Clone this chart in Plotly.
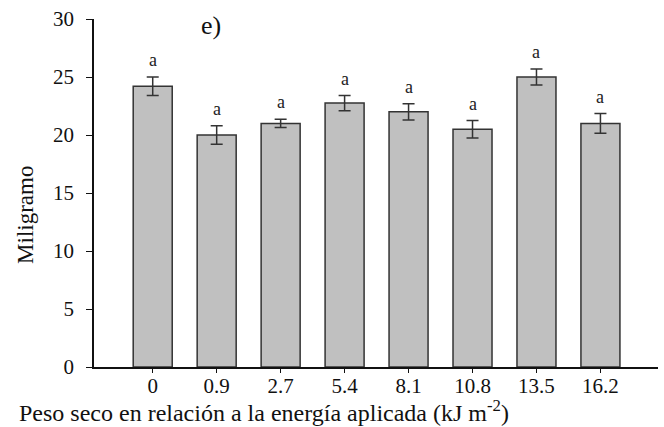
import plotly.graph_objects as go

categories = ["0", "0.9", "2.7", "5.4", "8.1", "10.8", "13.5", "16.2"]
values = [24.2, 20.0, 21.0, 22.75, 22.0, 20.5, 25.0, 21.0]
errors = [0.8, 0.8, 0.35, 0.65, 0.7, 0.75, 0.7, 0.85]
letters = ["a"] * 8
y_ticks = [0, 5, 10, 15, 20, 25, 30]

FONT = "Liberation Serif, Times New Roman, serif"

fig = go.Figure()
fig.add_trace(go.Bar(
    x=list(range(len(categories))), y=values,
    width=0.61,
    marker=dict(color="#c0c0c0", line=dict(color="#333333", width=1.5)),
    error_y=dict(type="data", array=errors, visible=True, color="#333333", thickness=1.5, width=6),
    showlegend=False,
))

for i, (v, e, t) in enumerate(zip(values, errors, letters)):
    fig.add_annotation(x=i, y=v + e, text=t, showarrow=False, yanchor="bottom", yshift=5,
                       font=dict(family=FONT, size=18, color="#222"))

fig.add_annotation(xref="paper", yref="paper", x=0.2074, y=0.98, text="e)", showarrow=False,
                   xanchor="center", yanchor="middle",
                   font=dict(family=FONT, size=26, color="#111"))

fig.add_annotation(xref="paper", yref="paper", x=-0.1365, y=-0.126,
                   text="Peso seco en relación a la energía aplicada (kJ m<sup>-2</sup>)",
                   showarrow=False, xanchor="left", yanchor="middle",
                   font=dict(family=FONT, size=24, color="#111"))

fig.add_annotation(xref="paper", yref="paper", x=-0.1206, y=0.437,
                   text="Miligramo", textangle=-90,
                   showarrow=False, xanchor="center", yanchor="middle",
                   font=dict(family=FONT, size=23, color="#111"))

fig.update_layout(
    width=664, height=427,
    margin=dict(l=94, r=6, t=19, b=60),
    paper_bgcolor="white", plot_bgcolor="white",
    font=dict(family=FONT, size=21, color="#111"),
    xaxis=dict(
        range=[-0.918, 7.9],
        tickmode="array", tickvals=list(range(len(categories))), ticktext=categories,
        showline=True, linecolor="#111", linewidth=1.5, ticks="outside", ticklen=4, tickcolor="#111",
        showgrid=False, zeroline=False, ticklabelstandoff=-5,
        tickfont=dict(family=FONT, size=21),
    ),
    yaxis=dict(
        range=[0, 30], tickmode="array", tickvals=y_ticks,
        showline=True, linecolor="#111", linewidth=1.5, ticks="outside", ticklen=6, tickcolor="#111",
        showgrid=False, zeroline=False, ticklabelstandoff=8,
        tickfont=dict(family=FONT, size=21),
    ),
)

fig.write_html("out.html", config={"displayModeBar": False},
               post_script="document.body.style.margin='0';document.body.style.padding='0';")
